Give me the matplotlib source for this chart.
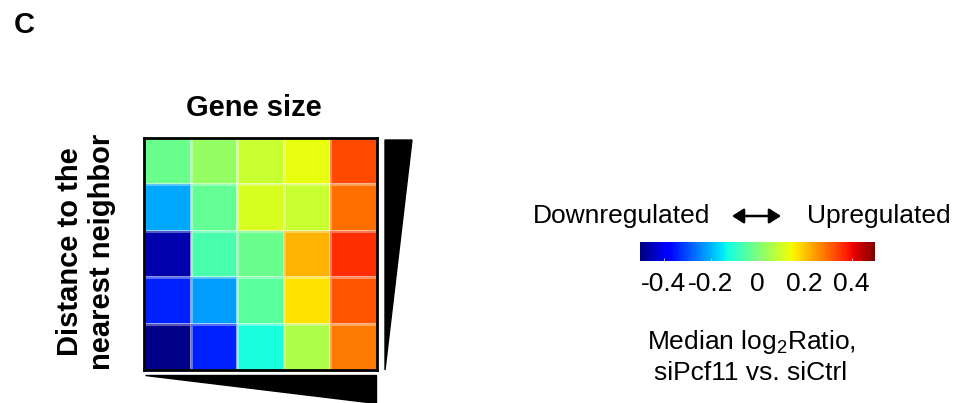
import numpy as np
import matplotlib.pyplot as plt
from matplotlib.colors import Normalize
from matplotlib.cm import ScalarMappable
from matplotlib.patches import Polygon, FancyArrowPatch

plt.rcParams['font.family'] = ['Liberation Sans', 'DejaVu Sans']
plt.rcParams['mathtext.default'] = 'regular'

# median log2 ratio per bin; rows = distance to nearest neighbor (top = short),
# columns = gene size (left = short)
row_1 = [-0.02, 0.03, 0.09, 0.13, 0.33]
row_2 = [-0.21, -0.03, 0.11, 0.09, 0.29]
row_3 = [-0.46, -0.06, -0.02, 0.22, 0.36]
row_4 = [-0.34, -0.22, -0.04, 0.17, 0.32]
row_5 = [-0.49, -0.34, -0.12, 0.06, 0.28]
cbar_ticks = [-0.4, -0.2, 0, 0.2, 0.4]
cbar_labels = ['-0.4', '-0.2', '0', '0.2', '0.4']

W, H = 954, 403


def box(left, top, right, bottom):
    # pixel box (origin top-left) -> figure fraction rect
    return [left / W, 1 - bottom / H, (right - left) / W, (bottom - top) / H]


def pt(x, y):
    return (x / W, 1 - y / H)


fig = plt.figure(figsize=(W / 100, H / 100), dpi=100)

grid = np.array([row_1, row_2, row_3, row_4, row_5])
norm = Normalize(vmin=-0.5, vmax=0.5)

ax = fig.add_axes(box(144, 138, 377, 370))
ax.pcolormesh(grid, cmap='jet', norm=norm,
              edgecolors=(1, 1, 1, 0.35), linewidth=0.8)
ax.set_xlim(0, 5)
ax.set_ylim(5, 0)
ax.set_xticks([])
ax.set_yticks([])
for s in ax.spines.values():
    s.set_linewidth(2)
    s.set_color('black')

# wedges showing increasing size / distance
fig.add_artist(Polygon([pt(385, 140), pt(412, 140), pt(385, 370)],
                       closed=True, color='black', transform=fig.transFigure))
fig.add_artist(Polygon([pt(145, 375), pt(376, 375), pt(376, 403)],
                       closed=True, color='black', transform=fig.transFigure))

fig.text(*pt(24, 25), 'C', fontsize=21, fontweight='bold', ha='center', va='center')
fig.text(*pt(254, 108), 'Gene size', fontsize=21, fontweight='bold',
         ha='center', va='center')
fig.text(*pt(86, 252), 'Distance to the\nnearest neighbor', fontsize=21,
         fontweight='bold', rotation=90, ha='center', va='center', linespacing=1.15)

# colour scale
cax = fig.add_axes(box(640, 242, 875, 261))
cb = fig.colorbar(ScalarMappable(norm=norm, cmap='jet'), cax=cax,
                  orientation='horizontal')
cb.outline.set_visible(False)
cb.set_ticks(cbar_ticks)
cb.set_ticklabels(cbar_labels)
cax.tick_params(axis='x', direction='in', length=2, width=0.6, colors='#cccccc',
                labelcolor='black', labelsize=19, pad=8)

fig.text(*pt(622, 216), 'Downregulated', fontsize=19, ha='center', va='center')
fig.text(*pt(879, 216), 'Upregulated', fontsize=19, ha='center', va='center')
fig.add_artist(FancyArrowPatch(
    pt(732, 216), pt(781, 216), transform=fig.transFigure,
    arrowstyle='<|-|>,head_length=7,head_width=4.5', color='black', lw=1.8,
    shrinkA=0, shrinkB=0))

fig.text(*pt(751, 342), 'Median log$_2$Ratio,', fontsize=19, ha='center', va='center')
fig.text(*pt(751, 373), 'siPcf11 vs. siCtrl', fontsize=19, ha='center', va='center')

fig.savefig('out.png', dpi=100)
